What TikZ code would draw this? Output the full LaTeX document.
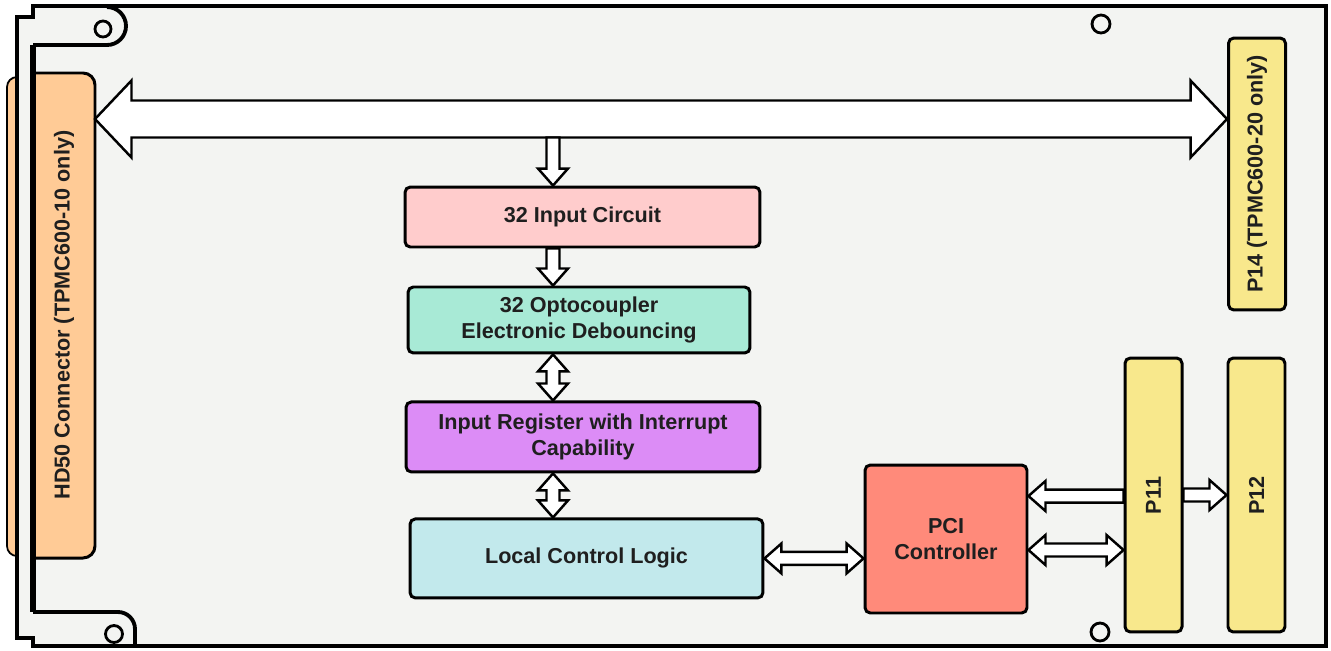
\documentclass[tikz,border=0pt]{standalone}
\usepackage{fontspec}
\setmainfont{Liberation Sans}
\usetikzlibrary{calc,positioning}

\definecolor{boardgray}{HTML}{F3F4F2}
\definecolor{connorange}{HTML}{FFCB96}
\definecolor{inpink}{HTML}{FFCCCC}
\definecolor{optomint}{HTML}{A8EAD6}
\definecolor{regviolet}{HTML}{DC8CF6}
\definecolor{logiccyan}{HTML}{C2E9EC}
\definecolor{pcisalmon}{HTML}{FF8A7A}
\definecolor{slotyellow}{HTML}{F8E88C}

\begin{document}
\begin{tikzpicture}[x=0.02cm, y=-0.02cm, node distance=2cm,
    font=\fontsize{12.3}{15}\selectfont\bfseries,
    block/.style={rectangle, draw, line width=1.7pt, rounded corners=3pt, align=center, inner sep=0pt, text=black!88},
    slot/.style={rectangle, draw, line width=1.7pt, rounded corners=3pt, fill=slotyellow, inner sep=0pt, minimum width=1.14cm},
    vlabel/.style={rotate=90, inner sep=0pt, text=black!88},
    hole/.style={draw, line width=1.6pt},
    fatone/.style n args={3}{draw, line width=1.4pt, fill=white, to path={
        ($(\tikztostart)!#1!90:(\tikztotarget)$)
        -- ($(\tikztotarget)!#3!(\tikztostart)!#1!-90:(\tikztostart)$)
        -- ($(\tikztotarget)!#3!(\tikztostart)!#2!-90:(\tikztostart)$)
        -- (\tikztotarget)
        -- ($(\tikztotarget)!#3!(\tikztostart)!#2!90:(\tikztostart)$)
        -- ($(\tikztotarget)!#3!(\tikztostart)!#1!90:(\tikztostart)$)
        -- ($(\tikztostart)!#1!-90:(\tikztotarget)$) -- cycle}},
    fattwo/.style n args={3}{draw, line width=1.4pt, fill=white, to path={
        -- ($(\tikztostart)!#3!(\tikztotarget)!#2!90:(\tikztotarget)$)
        -- ($(\tikztostart)!#3!(\tikztotarget)!#1!90:(\tikztotarget)$)
        -- ($(\tikztotarget)!#3!(\tikztostart)!#1!-90:(\tikztostart)$)
        -- ($(\tikztotarget)!#3!(\tikztostart)!#2!-90:(\tikztostart)$)
        -- (\tikztotarget)
        -- ($(\tikztotarget)!#3!(\tikztostart)!#2!90:(\tikztostart)$)
        -- ($(\tikztotarget)!#3!(\tikztostart)!#1!90:(\tikztostart)$)
        -- ($(\tikztostart)!#3!(\tikztotarget)!#1!-90:(\tikztotarget)$)
        -- ($(\tikztostart)!#3!(\tikztotarget)!#2!-90:(\tikztotarget)$)
        -- cycle}},
    arr/.style={fatone={0.13cm}{0.3cm}{0.34cm}},
    darr/.style={fattwo={0.13cm}{0.3cm}{0.34cm}}]

\useasboundingbox (0,0) rectangle (1331,650);
\fill[white] (0,0) rectangle (1331,650);

% Board
\filldraw[fill=connorange, line width=1pt, rounded corners=0.2cm] (7,77) rectangle (45,556);
\filldraw[fill=boardgray, line width=2.2pt] (33,6) -- (1326,6) -- (1326,646) -- (33,646) -- (33,638) -- (17,638) -- (17,17) -- (33,17) -- cycle;
\draw[line width=2.2pt] (33,45) -- (107,45) arc[start angle=-90, end angle=90, radius=0.38cm];
\draw[line width=2.2pt] (33,612) -- (118,612) arc[start angle=90, end angle=0, radius=0.34cm] -- (135,646);
\draw[hole] (103,29) circle[radius=0.16cm];
\draw[hole] (114,634) circle[radius=0.17cm];
\draw[hole] (1101,24) circle[radius=0.18cm];
\draw[hole] (1100,632) circle[radius=0.18cm];
\filldraw[fill=connorange, line width=1.7pt] (33,73) -- (83,73) arc[start angle=90, end angle=0, radius=0.24cm] -- (95,546) arc[start angle=0, end angle=-90, radius=0.24cm] -- (33,558);
\draw[line width=0.12cm] (33,45) -- (33,612);

% Nodes
\node [vlabel] (conn) at (64,315) {HD50 Connector (TPMC600-10 only)};
\node [block, fill=inpink, minimum width=7.1cm, minimum height=1.2cm] (input) at (582.5,217) {32 Input Circuit};
\node [block, fill=optomint, node distance=2.06cm, below of=input, xshift=-0.07cm, minimum width=6.84cm, minimum height=1.32cm] (opto) {32 Optocoupler\\Electronic Debouncing};
\node [block, fill=regviolet, node distance=2.34cm, below of=opto, xshift=0.08cm, minimum width=7.08cm, minimum height=1.4cm] (reg) {Input Register with Interrupt\\Capability};
\node [block, fill=logiccyan, node distance=2.43cm, below of=reg, xshift=0.07cm, minimum width=7.06cm, minimum height=1.58cm] (logic) {Local Control Logic};
\node [block, fill=pcisalmon, minimum width=3.24cm, minimum height=2.96cm] (pci) at (946,539) {PCI\\Controller};
\node [slot, minimum height=5.44cm] (p14) at (1257,174) {};
\node [slot, minimum height=5.48cm] (p11) at (1153.5,495) {};
\node [slot, minimum height=5.48cm, node distance=2.06cm, right of=p11] (p12) {};
\node [vlabel] (p14text) at (p14) {P14 (TPMC600-20 only)};
\node [vlabel] (p11text) at ([yshift=-2.78cm]p11.north) {P11};
\node [vlabel] (p12text) at ([yshift=-2.78cm]p12.north) {P12};

% Arrows
\coordinate (busL) at (95,119);
\coordinate (busR) at (p14.west |- busL);
\coordinate (tap) at (553,137.5);
\coordinate (pciup) at ([yshift=0.86cm]pci.east);
\coordinate (pcilow) at ([yshift=-0.22cm]pci.east);
\draw [fattwo={0.37cm}{0.77cm}{0.73cm}] (busL) to (busR);
\draw [arr] (tap) to (tap |- input.north);
\draw [arr] (tap |- input.south) to (tap |- opto.north);
\draw [darr] (tap |- opto.south) to (tap |- reg.north);
\draw [darr] (tap |- reg.south) to (tap |- logic.north);
\draw [darr] (logic.east) to (logic.east -| pci.west);
\draw [arr] (p11.west |- pciup) to (pciup);
\draw [darr] (pcilow) to (p11.west |- pcilow);
\draw [arr] (p11.east) to (p12.west);

\end{tikzpicture}
\end{document}
